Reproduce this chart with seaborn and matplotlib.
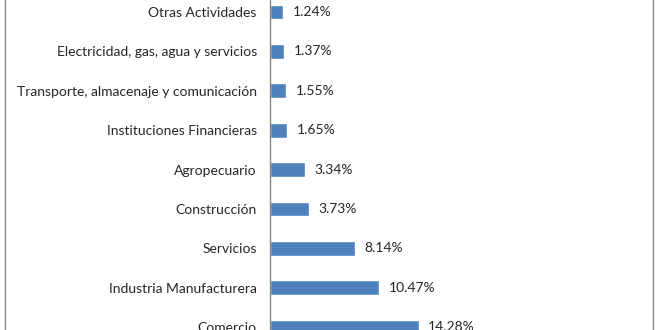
import matplotlib
matplotlib.use("Agg")
import matplotlib.pyplot as plt
import seaborn as sns
import pandas as pd
from matplotlib.lines import Line2D

categories = ["Otras Actividades", "Electricidad, gas, agua y servicios",
              "Transporte, almacenaje y comunicación", "Instituciones Financieras",
              "Agropecuario", "Construcción", "Servicios",
              "Industria Manufacturera", "Comercio"]
values = [1.24, 1.37, 1.55, 1.65, 3.34, 3.73, 8.14, 10.47, 14.28]
labels = ["1.24%", "1.37%", "1.55%", "1.65%", "3.34%", "3.73%", "8.14%", "10.47%", "14.28%"]

df = pd.DataFrame({"cat": categories, "val": values})

sns.set_theme(style="white")
plt.rcParams["font.family"] = ["Lato", "DejaVu Sans"]

W, H = 660, 330
fig = plt.figure(figsize=(6.6, 3.3), dpi=100)
ax_left = 270 / W
ax_right = 650 / W
ax = fig.add_axes([ax_left, 0, ax_right - ax_left, 1])

sns.barplot(data=df, x="val", y="cat", orient="h", color="#4F81BD",
            saturation=1, width=0.38, ax=ax)

px_per_unit = 10.4
ax.set_xlim(0, (650 - 270) / px_per_unit)
step = 39.4
ax.set_ylim((330 - 12) / step, -12 / step)

for i, (v, lab) in enumerate(zip(values, labels)):
    ax.annotate(lab, (v, i), xytext=(7, 0), textcoords="offset points",
                ha="left", va="center", fontsize=10, color="#262626")

ax.set_xlabel("")
ax.set_ylabel("")
ax.set_xticks([])
ax.tick_params(axis="y", length=0, pad=9.5, labelsize=10, labelcolor="#262626")
for s in ["top", "right", "bottom"]:
    ax.spines[s].set_visible(False)
ax.spines["left"].set_color("#868686")
ax.spines["left"].set_linewidth(1)

fig.add_artist(Line2D([4.5 / W, 4.5 / W], [0, 1], color="#868686", lw=1, transform=fig.transFigure))
fig.add_artist(Line2D([652.5 / W, 652.5 / W], [0, 1], color="#868686", lw=1, transform=fig.transFigure))

fig.savefig("out.png", dpi=100)
